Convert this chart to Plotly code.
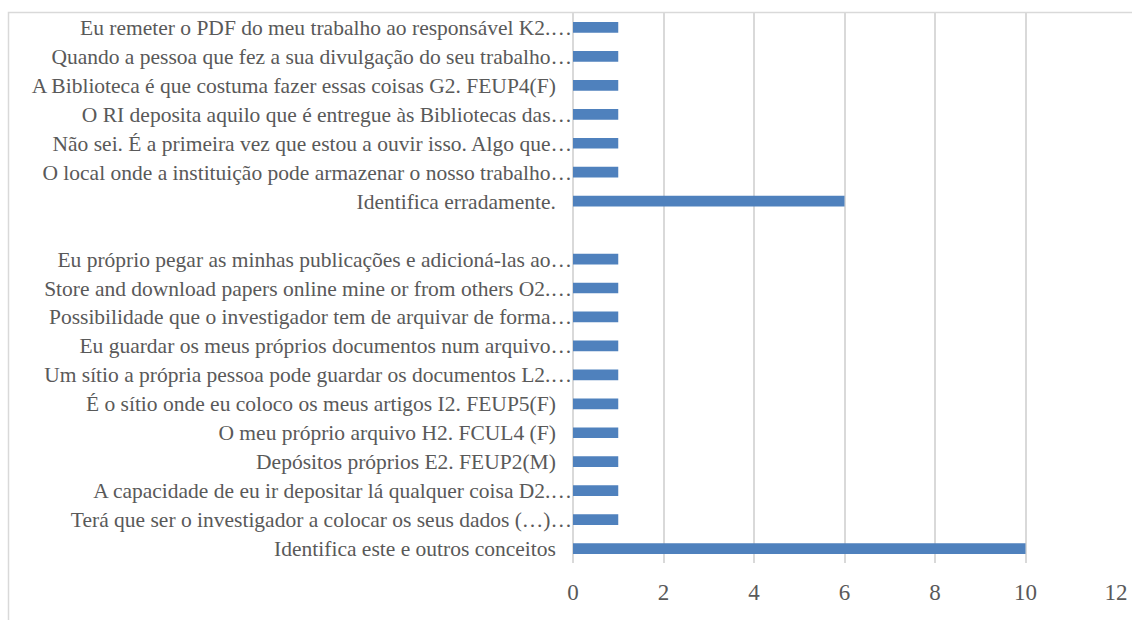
import plotly.graph_objects as go

categories = [
    "Eu remeter o PDF do meu trabalho ao responsável K2.…",
    "Quando a pessoa que fez a sua divulgação do seu trabalho…",
    "A Biblioteca é que costuma fazer essas coisas G2. FEUP4(F)\u00a0\u00a0\u00a0",
    "O RI deposita aquilo que é entregue às Bibliotecas das…",
    "Não sei. É a primeira vez que estou a ouvir isso. Algo que…",
    "O local onde a instituição pode armazenar o nosso trabalho…",
    "Identifica erradamente.\u00a0\u00a0\u00a0",
    " ",
    "Eu próprio pegar as minhas publicações e adicioná-las ao…",
    "Store and download papers online mine or from others O2.…",
    "Possibilidade que o investigador tem de arquivar de forma…",
    "Eu guardar os meus próprios documentos num arquivo…",
    "Um sítio a própria pessoa pode guardar os documentos L2.…",
    "É o sítio onde eu coloco os meus artigos I2. FEUP5(F)\u00a0\u00a0\u00a0",
    "O meu próprio arquivo H2. FCUL4 (F)\u00a0\u00a0\u00a0",
    "Depósitos próprios E2. FEUP2(M)\u00a0\u00a0\u00a0",
    "A capacidade de eu ir depositar lá qualquer coisa D2.…",
    "Terá que ser o investigador a colocar os seus dados (…)…",
    "Identifica este e outros conceitos\u00a0\u00a0\u00a0",
]
values = [1, 1, 1, 1, 1, 1, 6, None, 1, 1, 1, 1, 1, 1, 1, 1, 1, 1, 10]
x_ticks = [0, 2, 4, 6, 8, 10, 12]

W, H = 1132, 620
ml, mr, mt, mb = 573, 16, 13, 57
pw, ph = W - ml - mr, H - mt - mb

fig = go.Figure(go.Bar(
    x=values, y=categories, orientation="h",
    marker=dict(color="#4f81bd", line=dict(width=0)),
    width=0.37,
))

fig.update_layout(
    width=W, height=H,
    margin=dict(l=ml, r=mr, t=mt, b=mb, pad=0, autoexpand=False),
    paper_bgcolor="white", plot_bgcolor="white",
    showlegend=False,
    font=dict(family="Liberation Serif, Times New Roman, serif", color="#595959", size=21.5),
    xaxis=dict(
        range=[0, 12], tickvals=x_ticks, showgrid=True,
        gridcolor="#d9d9d9", gridwidth=1.5,
        zeroline=True, zerolinecolor="#d9d9d9", zerolinewidth=1.5,
        showline=False, ticks="", tickfont=dict(size=23, color="#595959"),
        ticklabelstandoff=13, fixedrange=True, automargin=False,
    ),
    yaxis=dict(
        type="category", categoryorder="array", categoryarray=categories,
        autorange="reversed", showgrid=False, zeroline=False, showline=False,
        ticks="", tickfont=dict(size=21.5, color="#595959"),
        ticklabelstandoff=0, fixedrange=True, automargin=False,
    ),
    shapes=[dict(
        type="rect", xref="paper", yref="paper",
        x0=(8.5 - ml) / pw, x1=1.2,
        y0=-0.3, y1=1 + (mt - 12.5) / ph,
        line=dict(color="#d9d9d9", width=1.5), fillcolor="rgba(0,0,0,0)",
        layer="below",
    )],
)

fig.write_html(
    "out.html",
    config={"displayModeBar": False},
    post_script="document.body.style.margin='0';document.body.style.overflow='hidden';",
)
